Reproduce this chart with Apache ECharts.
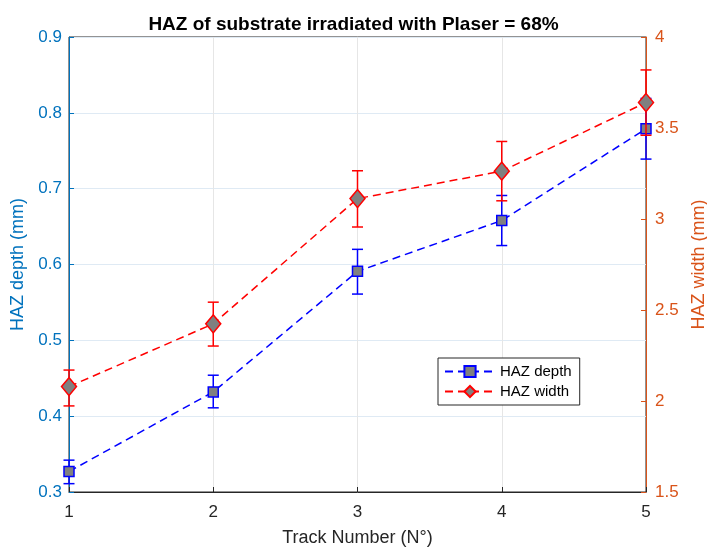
<!DOCTYPE html>
<html>
<head>
<meta charset="utf-8">
<script src="https://cdn.jsdelivr.net/npm/echarts@6/dist/echarts.min.js"></script>
<style>
  html, body { margin: 0; padding: 0; background: #fff; }
  #main { width: 707px; height: 548px; }
</style>
</head>
<body>
<div id="main"></div>
<script>
const track = [1, 2, 3, 4, 5];
const depth = [0.327, 0.432, 0.591, 0.658, 0.779];
const depthLow = [0.311, 0.411, 0.561, 0.625, 0.739];
const depthHigh = [0.342, 0.454, 0.620, 0.691, 0.819];
const width = [2.079, 2.424, 3.112, 3.263, 3.640];
const widthLow = [1.973, 2.302, 2.956, 3.100, 3.460];
const widthHigh = [2.170, 2.543, 3.265, 3.426, 3.819];

const BLUE_AX = "#0072BD";
const ORANGE_AX = "#D95319";
const FONT = "Liberation Sans";

// vertical error bar with caps
function errorBars(color) {
  return function (params, api) {
    const x = api.value(0);
    const top = api.coord([x, api.value(2)]);
    const bot = api.coord([x, api.value(1)]);
    const cap = 5.5;
    const style = { stroke: color, lineWidth: 1.5 };
    return {
      type: "group",
      children: [
        { type: "line", shape: { x1: top[0], y1: top[1], x2: bot[0], y2: bot[1] }, style: style },
        { type: "line", shape: { x1: top[0] - cap, y1: top[1], x2: top[0] + cap, y2: top[1] }, style: style },
        { type: "line", shape: { x1: bot[0] - cap, y1: bot[1], x2: bot[0] + cap, y2: bot[1] }, style: style }
      ]
    };
  };
}

const chart = echarts.init(document.getElementById("main"));

const option = {
  animation: false,
  textStyle: { fontFamily: FONT },
  title: {
    text: "HAZ of substrate irradiated with Plaser = 68%",
    left: "center",
    top: 10,
    textStyle: { fontSize: 19, fontWeight: "bold", color: "#000", fontFamily: FONT }
  },
  grid: {
    left: 69, right: 61, top: 37, bottom: 56,
    outerBoundsMode: "none",
    show: true, borderColor: "#262626", borderWidth: 1, backgroundColor: "#fff"
  },
  legend: {
    orient: "vertical",
    left: 438,
    top: 358,
    padding: [6, 8, 6, 6],
    itemGap: 5,
    itemWidth: 50,
    itemHeight: 14,
    backgroundColor: "#fff",
    borderColor: "#262626",
    borderWidth: 1,
    borderRadius: 0,
    textStyle: { fontSize: 15, color: "#000", fontFamily: FONT },
    data: ["HAZ depth", "HAZ width"]
  },
  xAxis: {
    type: "value",
    min: 1, max: 5, interval: 1,
    name: "Track Number (N°)",
    nameLocation: "middle",
    nameGap: 37,
    nameTextStyle: { fontSize: 18, color: "#262626" },
    axisLine: { lineStyle: { color: "#262626" } },
    axisTick: { inside: true, length: 5, lineStyle: { color: "#262626" } },
    axisLabel: { fontSize: 17, color: "#262626", margin: 12 },
    splitLine: { show: true, lineStyle: { color: "#e6e6e6" } }
  },
  yAxis: [
    {
      type: "value",
      min: 0.3, max: 0.9, interval: 0.1,
      name: "HAZ depth (mm)",
      nameLocation: "middle",
      nameRotate: 90,
      nameGap: 38,
      nameTextStyle: { fontSize: 18, color: BLUE_AX },
      axisLine: { show: true, lineStyle: { color: BLUE_AX } },
      axisTick: { show: true, inside: true, length: 5, lineStyle: { color: BLUE_AX } },
      axisLabel: { fontSize: 17, color: BLUE_AX, margin: 7, formatter: v => +v.toFixed(1) },
      splitLine: { show: true, lineStyle: { color: "#dfeaf4" } }
    },
    {
      type: "value",
      min: 1.5, max: 4, interval: 0.5,
      name: "HAZ width (mm)",
      nameLocation: "middle",
      nameRotate: 90,
      nameGap: 42,
      nameTextStyle: { fontSize: 18, color: ORANGE_AX },
      axisLine: { show: true, lineStyle: { color: ORANGE_AX } },
      axisTick: { show: true, inside: true, length: 5, lineStyle: { color: ORANGE_AX } },
      axisLabel: { fontSize: 17, color: ORANGE_AX, margin: 9, formatter: v => +v.toFixed(1) },
      splitLine: { show: false }
    }
  ],
  series: [
    {
      name: "HAZ depth",
      type: "line",
      yAxisIndex: 0,
      data: track.map((t, i) => [t, depth[i]]),
      symbol: "rect",
      symbolSize: 10,
      clip: false,
      z: 3,
      lineStyle: { color: "#0000FF", width: 1.5, type: [8, 5] },
      itemStyle: { color: "#808080", borderColor: "#0000FF", borderWidth: 1.5 }
    },
    {
      name: "depthErr",
      type: "custom",
      yAxisIndex: 0,
      clip: false,
      z: 2,
      renderItem: errorBars("#0000FF"),
      data: track.map((t, i) => [t, depthLow[i], depthHigh[i]])
    },
    {
      name: "HAZ width",
      type: "line",
      yAxisIndex: 1,
      data: track.map((t, i) => [t, width[i]]),
      symbol: "diamond",
      symbolSize: [15, 18],
      clip: false,
      z: 5,
      lineStyle: { color: "#FF0000", width: 1.5, type: [8, 5] },
      itemStyle: { color: "#808080", borderColor: "#FF0000", borderWidth: 1.5 }
    },
    {
      name: "widthErr",
      type: "custom",
      yAxisIndex: 1,
      clip: false,
      z: 4,
      renderItem: errorBars("#FF0000"),
      data: track.map((t, i) => [t, widthLow[i], widthHigh[i]])
    }
  ]
};

chart.setOption(option);
</script>
</body>
</html>
